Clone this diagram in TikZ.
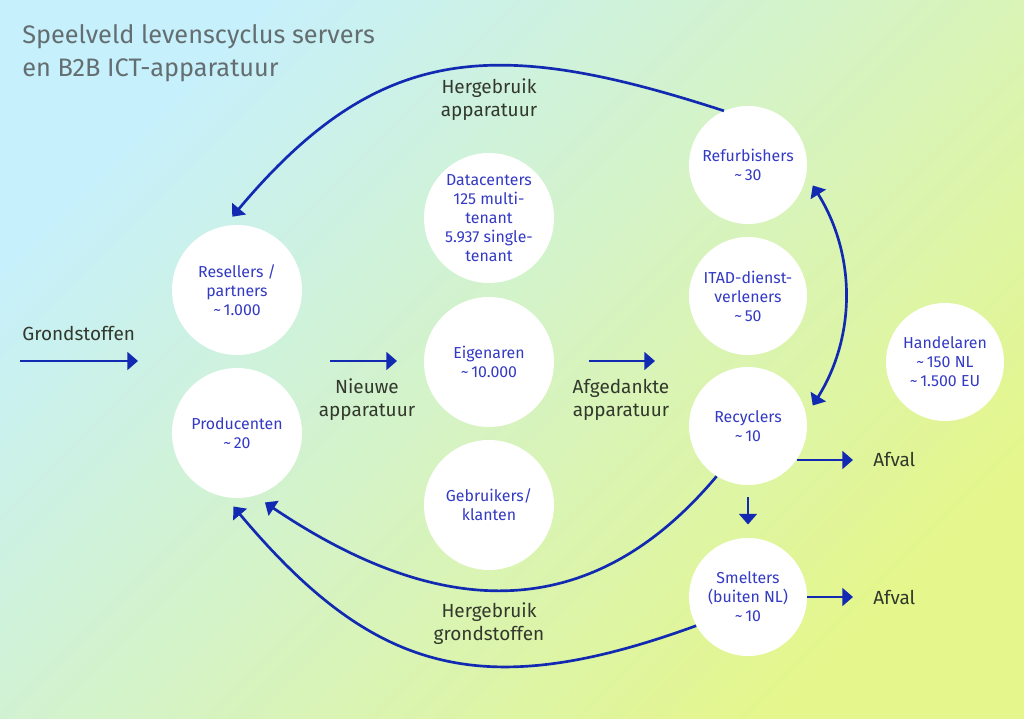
\documentclass[tikz,border=0pt]{standalone}
\usepackage{fontspec}
\setmainfont{Fira Sans}
\usetikzlibrary{arrows.meta}

\definecolor{bgcyan}{RGB}{198,240,252}
\definecolor{bglime}{RGB}{228,246,140}
\definecolor{nodeblue}{RGB}{52,58,195}
\definecolor{flowblue}{RGB}{18,42,178}
\definecolor{labeltext}{RGB}{50,56,44}
\definecolor{titlegray}{RGB}{100,110,112}

\begin{document}
\begin{tikzpicture}[
  >={Triangle[length=7.5pt,width=12.5pt]},
  flow/.style={->, line width=1.9pt, draw=flowblue},
  bubble/.style={circle, fill=white, text=nodeblue, align=center, inner sep=0pt,
    minimum size=3.25cm, font=\fontsize{11.3}{13.5}\selectfont},
  small bubble/.style={bubble, minimum size=2.95cm},
  flowlabel/.style={text=labeltext, align=center, font=\fontsize{13.5}{16.4}\selectfont}
]
\shade[top color=bgcyan, bottom color=bglime, shading angle=45] (0,0) rectangle (25.6,17.95);
\useasboundingbox (0,0) rectangle (25.6,17.95);

\node (title) at (0.55,17.35) [anchor=north west, inner sep=0pt, text=titlegray, align=left,
  font=\fontsize{18}{24}\selectfont] {Speelveld levenscyclus servers\\en B2B ICT-apparatuur};

% actoren
\node (resellers) at (5.925,10.7) [bubble] {Resellers /\\partners\\{\textasciitilde}\,1.000};
\node (producenten) at (5.925,7.125) [bubble] {Producenten\\{\textasciitilde}\,20};
\node (datacenters) at (12.225,12.5) [bubble] {Datacenters\\125 multi-\\tenant\\5.937 single-\\tenant};
\node (eigenaren) at (12.225,8.9) [bubble] {Eigenaren\\{\textasciitilde}\,10.000};
\node (gebruikers) at (12.225,5.325) [bubble] {Gebruikers/\\klanten};
\node (refurb) at (18.7,13.825) [small bubble] {Refurbishers\\{\textasciitilde}\,30};
\node (itad) at (18.7,10.55) [small bubble] {ITAD-dienst-\\verleners\\{\textasciitilde}\,50};
\node (recyclers) at (18.7,7.3) [small bubble] {Recyclers\\{\textasciitilde}\,10};
\node (smelters) at (18.7,3.025) [small bubble] {Smelters\\(buiten NL)\\{\textasciitilde}\,10};
\node (handelaren) at (23.625,8.9) [small bubble] {Handelaren\\{\textasciitilde}\,150 NL\\{\textasciitilde}\,1.500 EU};

% stromen
\node (hergebruikapp) at (12.225,15.45) [flowlabel] {Hergebruik\\apparatuur};
\node (grondstoffen) at (0.55,9.6) [flowlabel, anchor=west, inner sep=0pt] {Grondstoffen};
\node (nieuwe) at (9.175,7.95) [flowlabel] {Nieuwe\\apparatuur};
\node (afgedankt) at (15.525,7.95) [flowlabel] {Afgedankte\\apparatuur};
\node (afval1) at (21.325,6.454) [flowlabel, anchor=west, inner xsep=0.5cm] {Afval};
\node (afval2) at (21.325,3.025) [flowlabel, anchor=west, inner xsep=0.5cm] {Afval};
\node (hergebruikgrond) at (12.225,2.35) [flowlabel] {Hergebruik\\grondstoffen};

\coordinate (in1) at (0.5,8.925);
\coordinate (in2) at (3.45,8.925);
\coordinate (new1) at (8.25,8.925);
\coordinate (new2) at (9.925,8.925);
\coordinate (old1) at (14.725,8.925);
\coordinate (old2) at (16.375,8.925);

\draw[flow] (in1) -- (in2);
\draw[flow] (new1) -- (new2);
\draw[flow] (old1) -- (old2);
\draw[flow] (recyclers.-35) -- (recyclers.-35 -| afval1.west);
\draw[flow] (smelters.east) -- (afval2);
\draw[flow, shorten <=0.3cm, shorten >=0.33cm] (recyclers.south) -- (smelters.north);
\draw[flow, shorten >=0.3cm] (refurb.114) to [out=162, in=50, looseness=1.2] (resellers.101);
\draw[flow, <->, shorten <=0.3cm, shorten >=0.3cm] (refurb.-10) to [out=-58, in=58] (recyclers.10);
\draw[flow, shorten >=0.3cm] (recyclers.238) to [out=230, in=-34, looseness=1.15] (producenten.-74);
\draw[flow, shorten >=0.3cm] (smelters.209) to [out=200, in=-50, looseness=1.2] (producenten.-100);
\end{tikzpicture}
\end{document}
